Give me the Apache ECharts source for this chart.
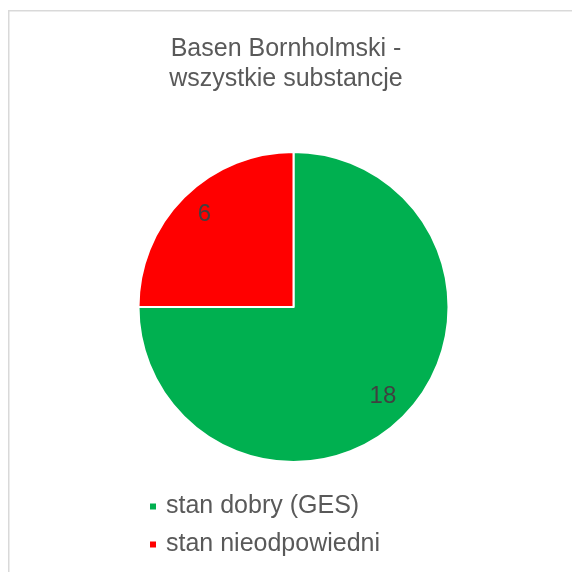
<!DOCTYPE html>
<html>
<head>
<meta charset="utf-8">
<script src="https://cdn.jsdelivr.net/npm/echarts@6/dist/echarts.min.js"></script>
<style>html,body{margin:0;padding:0;background:#fff;}#c{width:572px;height:572px;}</style>
</head>
<body>
<div id="c"></div>
<script>
const titleText = 'Basen Bornholmski -\nwszystkie substancje';
const categories = ['stan dobry (GES)', 'stan nieodpowiedni'];
const values = [18, 6];
const colors = ['#00B050', '#FF0000'];

const chart = echarts.init(document.getElementById('c'), null, {renderer: 'canvas'});
const font = 'Liberation Sans, Arial, sans-serif';
const labelStyle = {position: 'inside', formatter: '{c}', fontFamily: font, fontSize: 24, color: '#404040'};
function overlay(idx, inner, offset) {
  return {
    type: 'pie', center: [293.5, 307], radius: [inner, 155], startAngle: 90, clockwise: true,
    silent: true, z: 3,
    itemStyle: {color: 'transparent', borderWidth: 0},
    label: Object.assign({offset: offset}, labelStyle),
    labelLine: {show: false},
    emphasis: {disabled: true},
    data: categories.map((n, i) => ({name: n, value: values[i], itemStyle: {color: 'transparent'}, label: {show: i === idx}}))
  };
}
chart.setOption({
  animation: false,
  backgroundColor: '#fff',
  graphic: [{
    type: 'rect', left: 8, top: 10, z: -1,
    shape: {width: 620, height: 620},
    style: {fill: '#fff', stroke: '#d9d9d9', lineWidth: 1.5}
  }],
  title: {
    text: titleText, left: 'center', top: 29,
    textStyle: {fontFamily: font, fontSize: 25, fontWeight: 'normal', color: '#595959', lineHeight: 30}
  },
  legend: {
    orient: 'vertical', left: 143, top: 489,
    icon: 'rect', itemWidth: 8, itemHeight: 8, itemGap: 13,
    data: categories,
    textStyle: {fontFamily: font, fontSize: 25, color: '#595959', padding: [0, 0, 0, 4]}
  },
  series: [{
    type: 'pie', center: [293.5, 307], radius: 155, startAngle: 90, clockwise: true,
    label: {show: false}, labelLine: {show: false},
    itemStyle: {borderColor: '#fff', borderWidth: 2},
    emphasis: {disabled: true},
    data: categories.map((n, i) => ({name: n, value: values[i], itemStyle: {color: colors[i]}}))
  }, overlay(0, 92, [0, 0]), overlay(1, 105, [5, 1])]
});
</script>
</body>
</html>
